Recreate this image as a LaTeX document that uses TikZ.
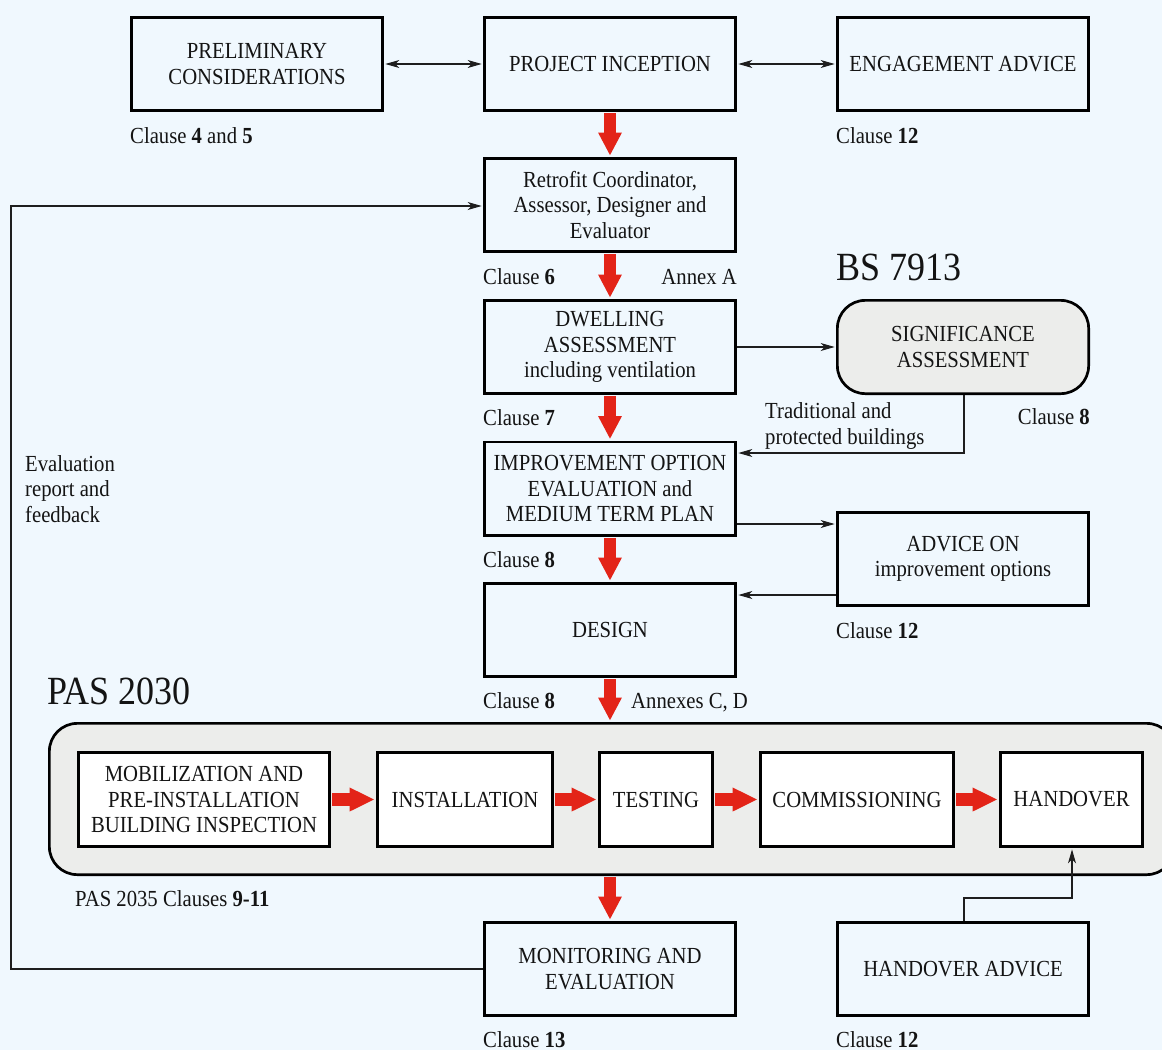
\documentclass[tikz,border=0pt]{standalone}
\usepackage{fontspec}
\setmainfont[FakeStretch=0.9]{Liberation Serif}
\usetikzlibrary{arrows.meta}
\definecolor{bgc}{RGB}{240,248,254}
\definecolor{grayfill}{RGB}{236,237,235}
\definecolor{arrred}{RGB}{227,36,24}
\definecolor{txt}{RGB}{20,20,20}
\definecolor{linec}{RGB}{30,30,30}
\begin{document}
\begin{tikzpicture}[x=1pt,y=-1pt,
  font=\fontsize{23}{25.3}\selectfont,
  box/.style={draw=black, line width=2.7pt, minimum width=251.3pt, minimum height=93.3pt,
    inner sep=0pt, align=center, text=txt},
  ibox/.style={box, fill=white, minimum height=94.3pt},
  lbl/.style={inner sep=0pt, text=txt},
  big/.style={lbl, font=\fontsize{40}{44}\selectfont},
  redv/.style={draw=arrred, line width=11.5pt, shorten <=1.35pt, shorten >=1.35pt,
    -{Triangle[length=23pt,width=22pt]}},
  redh/.style={draw=arrred, line width=12.5pt, shorten <=1.35pt, shorten >=1.35pt,
    -{Triangle[length=25pt,width=22pt]}},
  thin/.style={draw=linec, line width=1.1pt},
  tip/.style={thin, shorten >=1.35pt, -{Stealth[length=14pt,width=8pt,inset=4pt]}},
  dtip/.style={thin, shorten >=1.35pt, shorten <=1.35pt,
    {Stealth[length=14pt,width=8pt,inset=4pt]}-{Stealth[length=14pt,width=8pt,inset=4pt]}}
]
\useasboundingbox (0,0) rectangle (1162,1050);
\clip (0,0) rectangle (1162,1050);
\fill[bgc] (0,0) rectangle (1162,1050);

% top row
\node[box] (prelim) at (257,64) {PRELIMINARY\\CONSIDERATIONS};
\node[box] (pi) at (610,64) {PROJECT INCEPTION};
\node[box] (eng) at (963,64) {ENGAGEMENT ADVICE};
\node[box] (rc) at (610,205) {Retrofit Coordinator,\\Assessor, Designer and\\Evaluator};
\node[box] (dw) at (610,347) {DWELLING\\ASSESSMENT\\including ventilation};
\node[box, fill=grayfill, rounded corners=28pt] (sig) at (963,347) {SIGNIFICANCE\\ASSESSMENT};
\node[box] (imp) at (610,488.5) {IMPROVEMENT OPTION\\EVALUATION and\\MEDIUM TERM PLAN};
\node[box] (adv) at (963,559) {ADVICE ON\\improvement options};
\node[box] (des) at (610,630) {DESIGN};

% container
\node[draw=black, line width=2.7pt, fill=grayfill, rounded corners=28pt, inner sep=0pt,
  minimum width=1125.3pt, minimum height=151.3pt] (cont) at (612,799) {};
\node[ibox, minimum width=251.3pt] (mob) at (204,799.5) {MOBILIZATION AND\\PRE-INSTALLATION\\BUILDING INSPECTION};
\node[ibox, minimum width=175.3pt] (inst) at (465,799.5) {INSTALLATION};
\node[ibox, minimum width=113.3pt] (test) at (656,799.5) {TESTING};
\node[ibox, minimum width=193.3pt] (comm) at (857,799.5) {COMMISSIONING};
\node[ibox, minimum width=142.3pt] (hand) at (1071.5,799.5) {HANDOVER};

\node[box] (mon) at (610,969) {MONITORING AND\\EVALUATION};
\node[box] (hadv) at (963,969) {HANDOVER ADVICE};

% labels
\node[lbl, anchor=base west] (l1) at (130,143) {Clause \textbf{4} and \textbf{5}};
\node[lbl, anchor=base west] (l2) at (836,143) {Clause \textbf{12}};
\node[lbl, anchor=base west] (l3) at (483,284) {Clause \textbf{6}};
\node[lbl, anchor=base east] (l4) at (737,284) {Annex A};
\node[big, anchor=base west] (bs) at (836,280) {BS 7913};
\node[lbl, anchor=base west] (l5) at (483,425) {Clause \textbf{7}};
\node[lbl, anchor=base west, align=left] (trad) at (765,444) {Traditional and\\protected buildings};
\node[lbl, anchor=base east] (l6) at (1090,424) {Clause \textbf{8}};
\node[lbl, anchor=base west] (l7) at (483,567) {Clause \textbf{8}};
\node[lbl, anchor=base west] (l8) at (836,638) {Clause \textbf{12}};
\node[lbl, anchor=base west] (l9) at (483,708) {Clause \textbf{8}};
\node[lbl, anchor=base west] (l10) at (631,708) {Annexes C, D};
\node[big, anchor=base west] (pas) at (47,704) {PAS 2030};
\node[lbl, anchor=base west] (l11) at (75,906) {PAS 2035 Clauses \textbf{9-11}};
\node[lbl, anchor=base west] (l12) at (483,1047) {Clause \textbf{13}};
\node[lbl, anchor=base west] (l13) at (836,1047) {Clause \textbf{12}};
\node[lbl, anchor=base west, align=left] (evl) at (25,522) {Evaluation\\report and\\feedback};

% red flow arrows
\draw[redv] (pi.south) -- (rc.north);
\draw[redv] (rc.south) -- (dw.north);
\draw[redv] (dw.south) -- (imp.north);
\draw[redv] (imp.south) -- (des.north);
\draw[redv] (des.south) -- (des.south |- cont.north);
\draw[redv] (des.south |- cont.south) -- (mon.north);
\draw[redh] (mob.east) -- (inst.west);
\draw[redh] (inst.east) -- (test.west);
\draw[redh] (test.east) -- (comm.west);
\draw[redh] (comm.east) -- (hand.west);

% thin connectors
\draw[dtip] (prelim.east) -- (pi.west);
\draw[dtip] (pi.east) -- (eng.west);
\draw[tip] (dw.east) -- (sig.west);
\coordinate (s1) at (964,453);
\draw[tip] (sig.south -| s1) -- (s1) -- (s1 -| imp.east);
\draw[tip] (imp.east |- 0,524) -- (adv.west |- 0,524);
\draw[tip] (adv.west |- 0,595) -- (des.east |- 0,595);
\coordinate (fb1) at (11,969);
\coordinate (fb2) at (11,206);
\draw[tip] (mon.west) -- (fb1) -- (fb2) -- (rc.west |- fb2);
\coordinate (h1) at (964,898);
\coordinate (h2) at (1072,898);
\draw[tip] (hadv.north -| h1) -- (h1) -- (h2) -- (h2 |- hand.south);
\end{tikzpicture}
\end{document}
